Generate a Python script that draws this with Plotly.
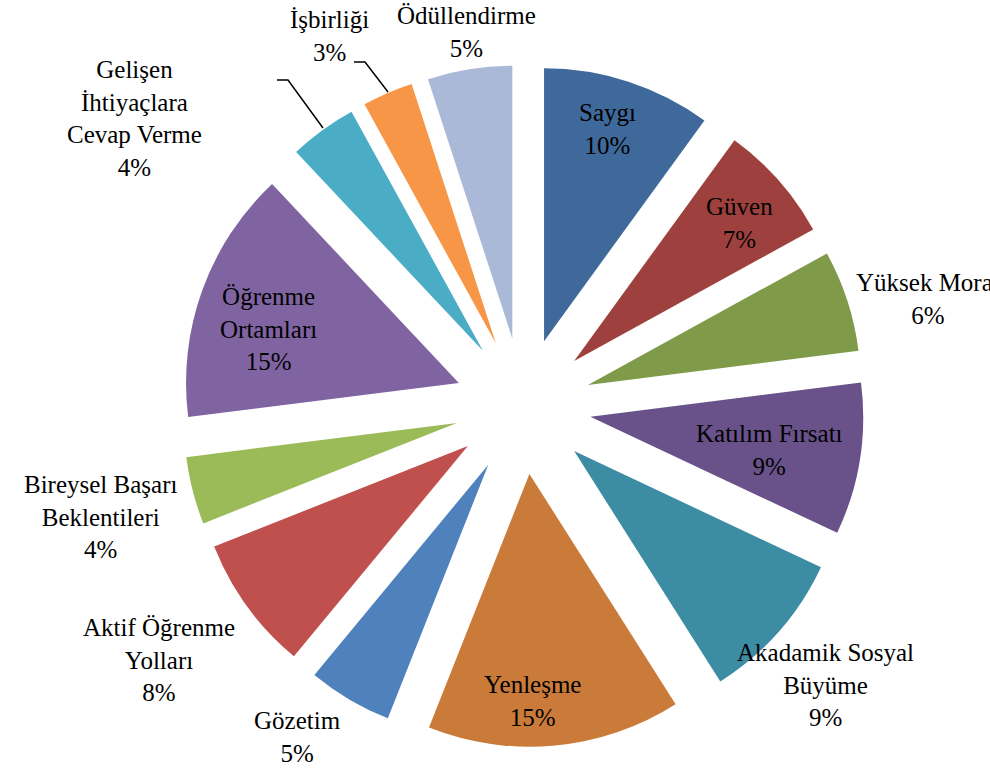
import plotly.graph_objects as go

# ---- data ----
categories = ["Saygı", "Güven", "Yüksek Moral", "Katılım Fırsatı",
              "Akadamik Sosyal Büyüme", "Yenleşme", "Gözetim",
              "Aktif Öğrenme Yolları", "Bireysel Başarı Beklentileri",
              "Öğrenme Ortamları", "Gelişen İhtiyaçlara Cevap Verme",
              "İşbirliği", "Ödüllendirme"]
values = [10, 7, 6, 9, 9, 15, 5, 8, 4, 15, 4, 3, 5]
label_lines = ["Saygı", "Güven", "Yüksek Moral", "Katılım Fırsatı",
               "Akadamik Sosyal<br>Büyüme", "Yenleşme", "Gözetim",
               "Aktif Öğrenme<br>Yolları", "Bireysel Başarı<br>Beklentileri",
               "Öğrenme<br>Ortamları", "Gelişen<br>İhtiyaçlara<br>Cevap Verme",
               "İşbirliği", "Ödüllendirme"]
colors = ["#3F699B", "#9E413E", "#7F9A48", "#69518A", "#3C8CA3", "#CB7B39",
          "#4F81BD", "#C0504D", "#9BBB59", "#8064A2", "#4BACC6", "#F79646",
          "#A9B9D7"]

# ---- layout geometry (pixels) ----
W, H = 990, 768
ML, MR, MT, MB = 182, 126, 65, 21
PW, PH = W - ML - MR, H - MT - MB

# label block centres (pixels)
label_pos = [(607, 129), (739, 223), (928, 299), (769, 450), (825, 685),
             (532, 701), (297, 737), (159, 660), (100, 517), (268, 329),
             (134, 118), (329, 36), (466, 32)]

# leader lines (pixels)
leaders = [[(277, 80), (288, 80), (323, 128)],
           [(354, 62), (365, 62), (388, 92)]]


def px(x):
    return (x - ML) / PW


def py(y):
    return 1 - (y - MT) / PH


total = sum(values)
fig = go.Figure(go.Pie(
    labels=categories,
    values=values,
    sort=False,
    direction="clockwise",
    rotation=0,
    pull=[0.25] * len(values),
    marker=dict(colors=colors, line=dict(width=0)),
    textinfo="none",
    hoverinfo="label+percent",
    showlegend=False,
))

annotations = []
for txt, v, (x, y) in zip(label_lines, values, label_pos):
    annotations.append(dict(
        text=f"{txt}<br>{round(v / total * 100)}%",
        x=px(x), y=py(y), xref="paper", yref="paper",
        xanchor="center", yanchor="middle", showarrow=False,
        font=dict(family="Liberation Serif", size=25, color="#000000"),
        align="center",
    ))

shapes = []
for pts in leaders:
    path = "M " + " L ".join(f"{px(a)},{py(b)}" for a, b in pts)
    shapes.append(dict(type="path", path=path, xref="paper", yref="paper",
                       line=dict(color="#000000", width=1.5)))

fig.update_layout(
    width=W, height=H,
    margin=dict(l=ML, r=MR, t=MT, b=MB, pad=0),
    paper_bgcolor="white", plot_bgcolor="white",
    annotations=annotations, shapes=shapes,
)

fig.write_html("out.html",
               config={"displayModeBar": False},
               post_script="document.body.style.margin='0';"
                           "document.body.style.overflow='hidden';")
